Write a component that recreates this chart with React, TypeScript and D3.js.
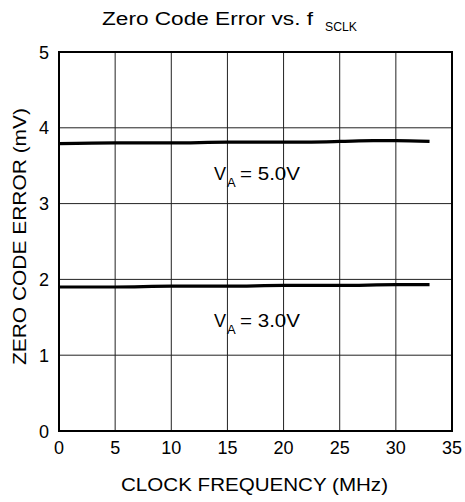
import React from "react";
import * as d3 from "d3";

const freq5 = [0, 5, 10, 15, 20, 25, 28, 30, 33];
const err5 = [3.79, 3.8, 3.8, 3.81, 3.81, 3.82, 3.83, 3.83, 3.82];
const freq3 = [0, 5, 10, 15, 20, 25, 30, 33];
const err3 = [1.9, 1.9, 1.91, 1.91, 1.92, 1.92, 1.93, 1.93];
const xTicks = [0, 5, 10, 15, 20, 25, 30, 35];
const yTicks = [0, 1, 2, 3, 4, 5];

const W = 465;
const H = 502;
const L = 59, R = 452, T = 52, B = 431;
const FONT = "'Liberation Sans', Arial, Helvetica, sans-serif";

export default function App() {
  const x = d3.scaleLinear().domain([0, 35]).range([L, R]);
  const y = d3.scaleLinear().domain([0, 5]).range([B, T]);
  const line = d3
    .line<[number, number]>()
    .x((d) => x(d[0]))
    .y((d) => y(d[1]))
    .curve(d3.curveMonotoneX);
  const d5 = line(freq5.map((f, i) => [f, err5[i]] as [number, number])) || "";
  const d3v = line(freq3.map((f, i) => [f, err3[i]] as [number, number])) || "";

  return (
    <svg
      width={W}
      height={H}
      style={{ position: "absolute", left: 0, top: 0, background: "#fff" }}
      fontFamily={FONT}
    >
      <rect x={0} y={0} width={W} height={H} fill="#fff" />
      {/* grid */}
      {xTicks.slice(1, -1).map((t) => (
        <line key={"gx" + t} x1={x(t)} x2={x(t)} y1={T} y2={B} stroke="#222" strokeWidth={1} />
      ))}
      {yTicks.slice(1, -1).map((t) => (
        <line key={"gy" + t} x1={L} x2={R} y1={y(t)} y2={y(t)} stroke="#222" strokeWidth={1} />
      ))}
      <rect x={L} y={T} width={R - L} height={B - T} fill="none" stroke="#000" strokeWidth={2} />
      {/* data */}
      <path d={d5} fill="none" stroke="#000" strokeWidth={3.2} />
      <path d={d3v} fill="none" stroke="#000" strokeWidth={3.2} />
      {/* tick labels */}
      {xTicks.map((t) => (
        <text key={"tx" + t} x={x(t)} y={454} textAnchor="middle" fontSize={18} fill="#000">
          {t}
        </text>
      ))}
      {yTicks.map((t) => (
        <text key={"ty" + t} x={49} y={y(t) + 6.5} textAnchor="end" fontSize={18} fill="#000">
          {t}
        </text>
      ))}
      {/* title */}
      <text x={102} y={25} fontSize={18} fill="#000" textLength={211} lengthAdjust="spacingAndGlyphs">
        Zero Code Error vs. f
      </text>
      <text x={325} y={31} fontSize={13.5} fill="#000" textLength={32} lengthAdjust="spacingAndGlyphs">
        SCLK
      </text>
      {/* axis labels */}
      <text x={121} y={491} fontSize={18} fill="#000" textLength={267} lengthAdjust="spacingAndGlyphs">
        CLOCK FREQUENCY (MHz)
      </text>
      <text
        transform={`translate(26,${365}) rotate(-90)`}
        fontSize={18}
        fill="#000"
        textLength={257}
        lengthAdjust="spacingAndGlyphs"
      >
        ZERO CODE ERROR (mV)
      </text>
      {/* annotations */}
      <text x={214} y={180} fontSize={18} fill="#000">
        V
      </text>
      <text x={227} y={187} fontSize={13} fill="#000">
        A
      </text>
      <text x={240} y={180} fontSize={18} fill="#000" textLength={60} lengthAdjust="spacingAndGlyphs">
        = 5.0V
      </text>
      <text x={214} y={327} fontSize={18} fill="#000">
        V
      </text>
      <text x={227} y={334} fontSize={13} fill="#000">
        A
      </text>
      <text x={240} y={327} fontSize={18} fill="#000" textLength={60} lengthAdjust="spacingAndGlyphs">
        = 3.0V
      </text>
    </svg>
  );
}
